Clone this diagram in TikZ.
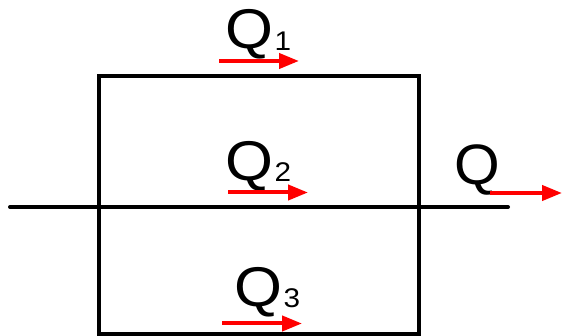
\documentclass[tikz,border=0pt]{standalone}
\usepackage{fontspec}
\setmainfont{Liberation Sans}
\usetikzlibrary{arrows.meta}
\tikzset{
  wire/.style={line width=4pt, black},
  flow/.style={line width=4pt, red, -{Triangle[length=20pt,width=15pt]}},
  lbl/.style={anchor=base west, inner sep=0pt, font=\fontsize{56}{60}\selectfont}
}
\newcommand{\qlab}[1]{\scalebox{1.1}[1]{Q\kern1pt\raisebox{-1.5pt}{\fontsize{27}{30}\selectfont #1}}}
\begin{document}
\begin{tikzpicture}[x=1pt,y=-1pt]
\useasboundingbox (0,0) rectangle (562,336);
% circuit
\coordinate (tl) at (98.5,76.5);
\coordinate (tr) at (419,76.5);
\coordinate (bl) at (98.5,334);
\coordinate (br) at (419,334);
\coordinate (inL) at (10,207);
\coordinate (outR) at (508,207);
\draw[wire, line cap=round] (inL) -- (outR);
\draw[wire] (bl) -- (tl) -- (tr) -- (br) -- cycle;
% labels
\node[lbl] (q1) at (225.5,49) {\qlab{1}};
\node[lbl] (q2) at (225.5,180.5) {\qlab{2}};
\node[lbl] (q3) at (234.5,306.5) {\qlab{3}};
\node[lbl, font=\fontsize{57}{60}\selectfont] (q) at (454.5,185) {\scalebox{1.03}[1]{Q}};
% flow arrows
\coordinate (a1s) at (219,61); \coordinate (a1e) at (299,61);
\coordinate (a2s) at (228,192.5); \coordinate (a2e) at (308,192.5);
\coordinate (a3s) at (222,323.5); \coordinate (a3e) at (302,323.5);
\coordinate (as) at (490,193); \coordinate (ae) at (562,193);
\draw[flow] (a1s) -- (a1e);
\draw[flow] (a2s) -- (a2e);
\draw[flow] (a3s) -- (a3e);
\draw[flow] (as) -- (ae);
\end{tikzpicture}
\end{document}
